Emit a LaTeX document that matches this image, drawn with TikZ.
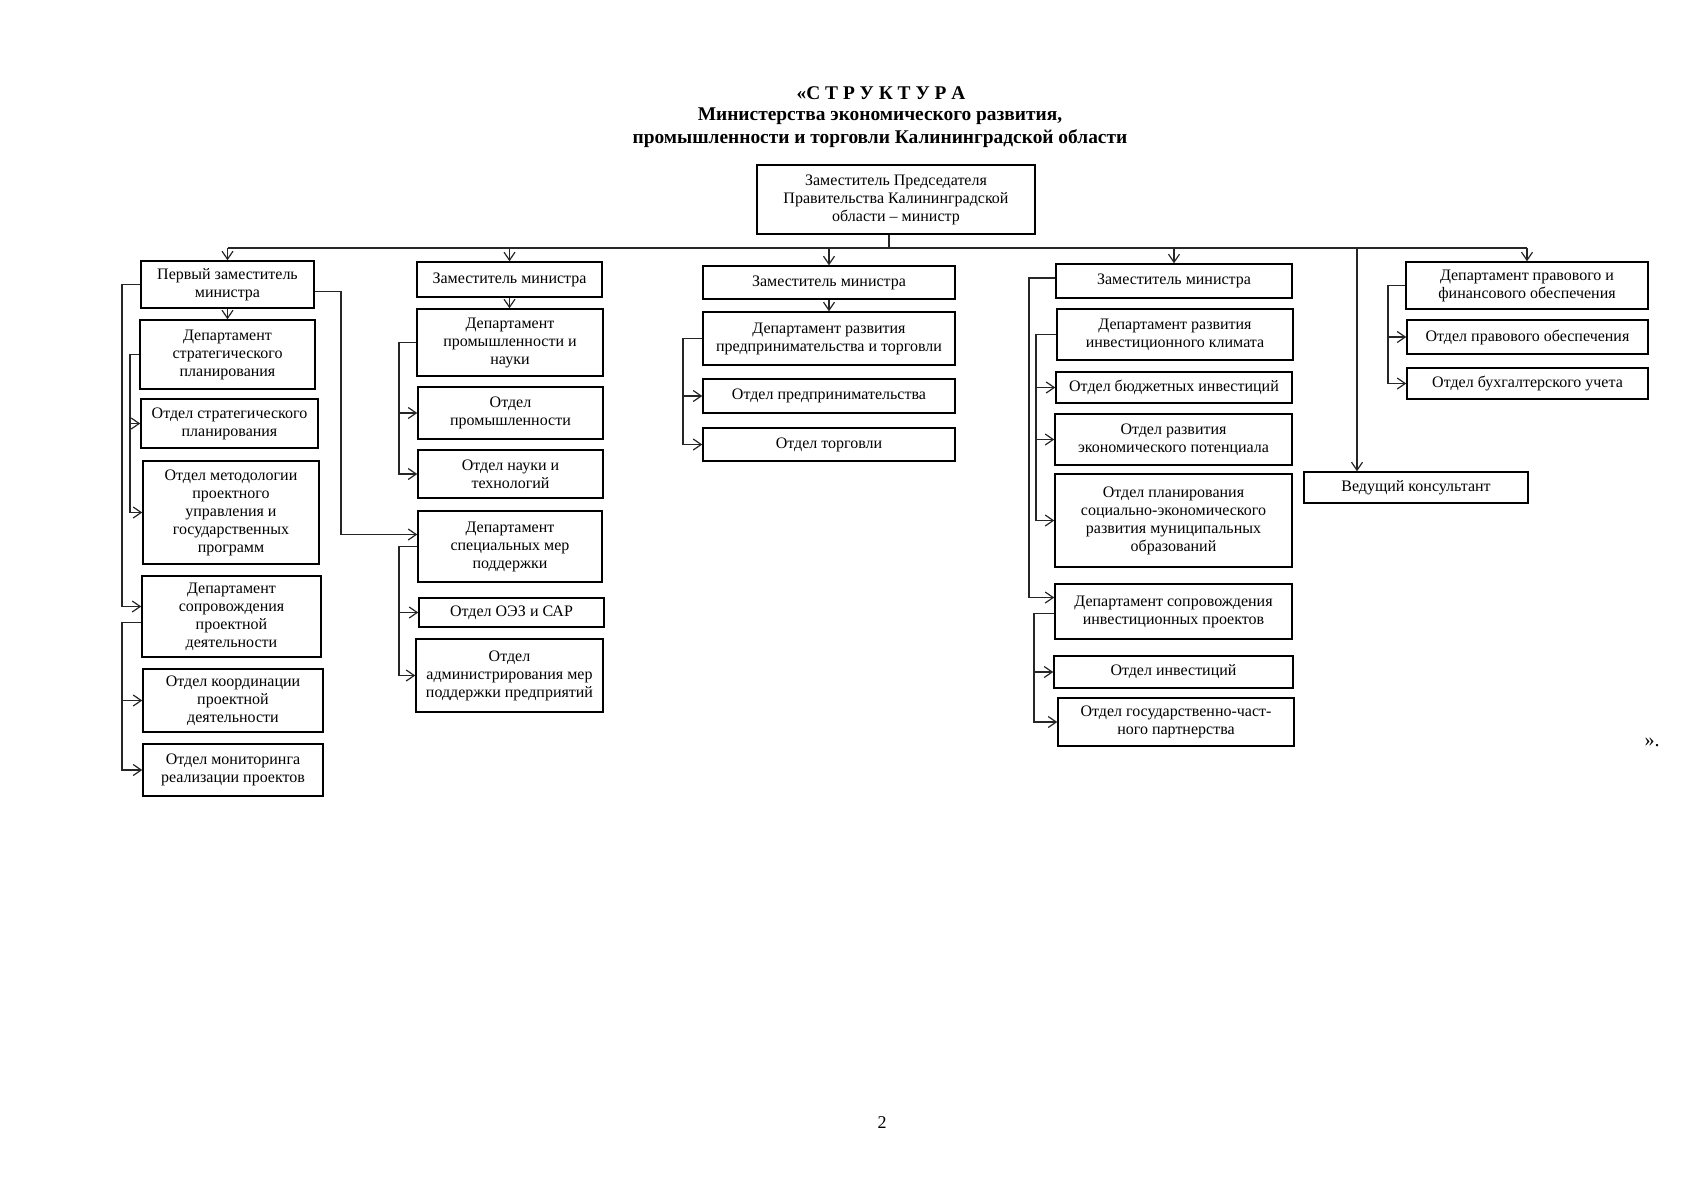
\documentclass[tikz,border=0pt]{standalone}
\usepackage{fontspec}
\setmainfont{Liberation Serif}
\usetikzlibrary{arrows.meta}
\newcommand\bx[6]{\node[box, minimum width={(#4-#2)*0.5pt}, minimum height={(#5-#3)*0.5pt}] (#1) at ({(#2+#4)/2},{(#3+#5)/2}) {#6};}
\begin{document}
\begin{tikzpicture}[x=0.5pt,y=-0.5pt,
  box/.style={draw=black, line width=0.75pt, inner sep=1pt, align=center, font=\fontsize{8}{9}\selectfont},
  con/.style={draw=black!85, line width=0.6pt},
  arr/.style={con, -{Straight Barb[length=4pt,width=5.5pt]}},
  ttl/.style={font=\bfseries\fontsize{9.7}{12}\selectfont, inner sep=0pt}]
\fill[white] (0,0) rectangle (1697,1200);
\useasboundingbox (0,0) rectangle (1697,1200);
% title
\node[ttl] (t1) at (881,93) {«С Т Р У К Т У Р А};
\node[ttl] (t2) at (880,116) {Министерства экономического развития,};
\node[ttl] (t3) at (880,139) {промышленности и торговли Калининградской области};
% top
\bx{T}{757}{165}{1035}{234}{Заместитель Председателя\\Правительства Калининградской\\области – министр}
% column 1
\bx{P1}{141}{261}{314}{308}{Первый заместитель\\министра}
\bx{D11}{140}{320}{315}{389}{Департамент\\стратегического\\планирования}
\bx{O11}{141}{399}{318}{448}{Отдел стратегического\\планирования}
\bx{O12}{143}{461}{319}{564}{Отдел методологии\\проектного\\управления и\\государственных\\программ}
\bx{D12}{142}{576}{321}{657}{Департамент\\сопровождения\\проектной\\деятельности}
\bx{O13}{143}{669}{323}{732}{Отдел координации\\проектной\\деятельности}
\bx{O14}{143}{744}{323}{796}{Отдел мониторинга\\реализации проектов}
% column 2
\bx{Z2}{417}{262}{602}{297}{Заместитель министра}
\bx{D21}{417}{309}{603}{376}{Департамент\\промышленности и\\науки}
\bx{O21}{418}{387}{603}{439}{Отдел\\промышленности}
\bx{O22}{418}{450}{603}{498}{Отдел науки и\\технологий}
\bx{D22}{418}{511}{602}{582}{Департамент\\специальных мер\\поддержки}
\bx{O23}{419}{598}{604}{627}{Отдел ОЭЗ и САР}
\bx{O24}{416}{639}{603}{712}{Отдел\\администрирования мер\\поддержки предприятий}
% column 3
\bx{Z3}{703}{266}{955}{299}{Заместитель министра}
\bx{D31}{703}{312}{955}{365}{Департамент развития\\предпринимательства и торговли}
\bx{O31}{703}{379}{955}{413}{Отдел предпринимательства}
\bx{O32}{703}{428}{955}{461}{Отдел торговли}
% column 4
\bx{Z4}{1056}{264}{1292}{298}{Заместитель министра}
\bx{D41}{1057}{309}{1293}{360}{Департамент развития\\инвестиционного климата}
\bx{O41}{1056}{372}{1292}{403}{Отдел бюджетных инвестиций}
\bx{O42}{1055}{414}{1292}{465}{Отдел развития\\экономического потенциала}
\bx{O43}{1055}{474}{1292}{567}{Отдел планирования\\социально-экономического\\развития муниципальных\\образований}
\bx{D42}{1055}{584}{1292}{639}{Департамент сопровождения\\инвестиционных проектов}
\bx{O44}{1054}{656}{1293}{688}{Отдел инвестиций}
\bx{O45}{1058}{698}{1294}{746}{Отдел государственно-част-\\ного партнерства}
% column 5
\bx{VK}{1304}{472}{1528}{503}{Ведущий консультант}
\bx{D51}{1406}{262}{1648}{309}{Департамент правового и\\финансового обеспечения}
\bx{O51}{1407}{320}{1648}{354}{Отдел правового обеспечения}
\bx{O52}{1407}{368}{1648}{399}{Отдел бухгалтерского учета}
% helper coordinates
\coordinate (bus) at (0,248);
\coordinate (stem) at (889,248);
\coordinate (vk) at (1357,248);
\coordinate (xa) at (122,0);
\coordinate (xb) at (130,0);
\coordinate (xc) at (341,0);
\coordinate (xd) at (399,0);
\coordinate (xe) at (683,0);
\coordinate (xf) at (1029,0);
\coordinate (xg) at (1036,0);
\coordinate (xh) at (1034,0);
\coordinate (xi) at (1388,0);
% bus
\draw[con] (P1.north |- bus) -- (D51.north |- bus);
\draw[con] (stem |- T.south) -- (stem);
\draw[arr] (P1.north |- bus) -- (P1.north);
\draw[arr] (Z2.north |- bus) -- (Z2.north);
\draw[arr] (Z3.north |- bus) -- (Z3.north);
\draw[arr] (Z4.north |- bus) -- (Z4.north);
\draw[arr] (vk) -- (vk |- VK.north);
\draw[arr] (D51.north |- bus) -- (D51.north);
% column 1 connectors
\draw[arr] (P1.south) -- (P1.south |- D11.north);
\coordinate (d12i) at ([yshift=5pt]D12.west);
\coordinate (d12o) at ([yshift=-3pt]D12.west);
\draw[arr] (P1.west) -- (P1.west -| xa) |- (d12i);
\draw[arr] (d12o) -- (d12o -| xa) |- (O13.west);
\draw[arr] (O13.west -| xa) |- (O14.west);
\draw[arr] (D11.west) -- (D11.west -| xb) |- (O11.west);
\draw[arr] (O11.west -| xb) |- (O12.west);
\coordinate (p1r) at ([yshift=-3.5pt]P1.east);
\coordinate (d22i) at ([yshift=6pt]D22.west);
\draw[arr] (p1r) -- (p1r -| xc) |- (d22i);
% column 2 connectors
\draw[arr] (Z2.south) -- (Z2.south |- D21.north);
\draw[arr] (D21.west) -- (D21.west -| xd) |- (O21.west);
\draw[arr] (O21.west -| xd) |- (O22.west);
\draw[arr] (D22.west) -- (D22.west -| xd) |- (O23.west);
\draw[arr] (O23.west -| xd) |- (O24.west);
% column 3 connectors
\draw[arr] (Z3.south) -- (Z3.south |- D31.north);
\draw[arr] (D31.west) -- (D31.west -| xe) |- (O31.west);
\draw[arr] (O31.west -| xe) |- (O32.west);
% column 4 connectors
\coordinate (z4l) at ([yshift=1.5pt]Z4.west);
\coordinate (d42i) at ([yshift=7pt]D42.west);
\coordinate (d42o) at ([yshift=-1pt]D42.west);
\draw[arr] (z4l) -- (z4l -| xf) |- (d42i);
\draw[arr] (D41.west) -- (D41.west -| xg) |- (O41.west);
\draw[arr] (O41.west -| xg) |- (O42.west);
\draw[arr] (O42.west -| xg) |- (O43.west);
\draw[arr] (d42o) -- (d42o -| xh) |- (O44.west);
\draw[arr] (O44.west -| xh) |- (O45.west);
% column 5 connectors
\draw[arr] (D51.west) -- (D51.west -| xi) |- (O51.west);
\draw[arr] (O51.west -| xi) |- (O52.west);
% other texts
\node[font=\fontsize{10}{12}\selectfont, inner sep=0pt] (q) at (1652,742) {».};
\node[font=\fontsize{9}{11}\selectfont, inner sep=0pt] (pg) at (882,1123) {2};
\end{tikzpicture}
\end{document}
